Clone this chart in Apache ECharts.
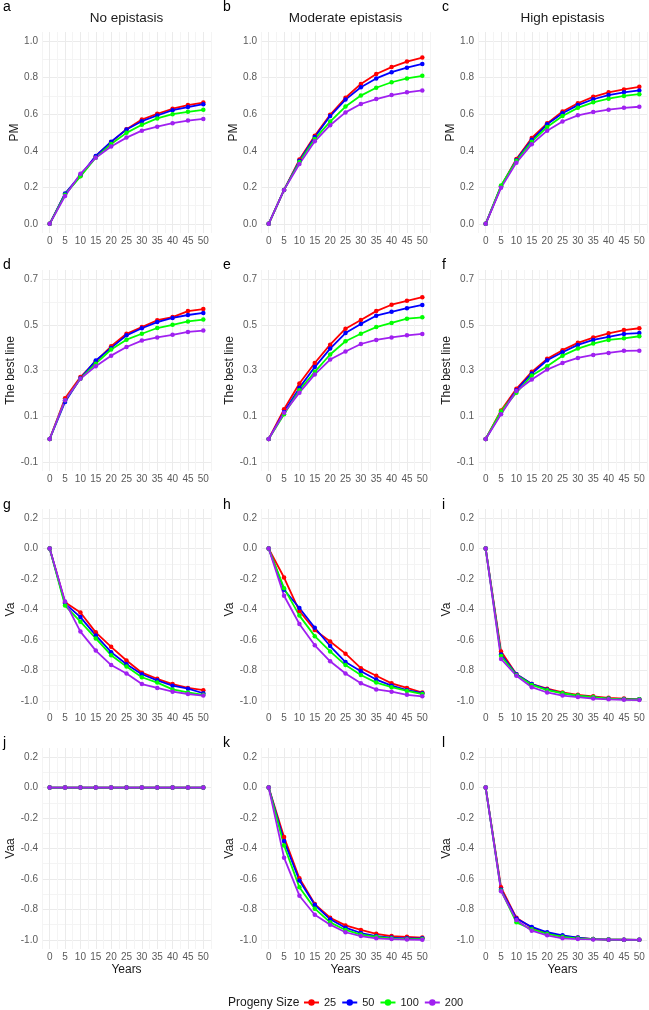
<!DOCTYPE html>
<html lang="en">
<head>
    <meta charset="utf-8">
    <title>Progeny size</title>
    <script src="https://cdn.jsdelivr.net/npm/echarts@6/dist/echarts.min.js"></script>
    <style>html,body{margin:0;padding:0;background:#fff;}</style>
</head>
<body>
    <div id="main" style="width:649px;height:1010px;"></div>

    <script type="text/javascript">

    var years = [0, 5, 10, 15, 20, 25, 30, 35, 40, 45, 50];
    var sizes = ['25', '50', '100', '200'];
    var colors = ['#FF0000', '#0000FF', '#00FF00', '#A020F0'];
    var columnTitles = ['No epistasis', 'Moderate epistasis', 'High epistasis'];
    var rowNames = ['PM', 'The best line', 'Va', 'Vaa'];
    var letters = ['a', 'b', 'c', 'd', 'e', 'f', 'g', 'h', 'i', 'j', 'k', 'l'];

    // tick labels for each row
    var yTicks = [
        [0, 0.2, 0.4, 0.6, 0.8, 1.0],
        [-0.1, 0.1, 0.3, 0.5, 0.7],
        [-1.0, -0.8, -0.6, -0.4, -0.2, 0, 0.2],
        [-1.0, -0.8, -0.6, -0.4, -0.2, 0, 0.2]
    ];
    var yMinor = [
        [0.1, 0.3, 0.5, 0.7, 0.9],
        [0, 0.2, 0.4, 0.6],
        [-0.9, -0.7, -0.5, -0.3, -0.1, 0.1],
        [-0.9, -0.7, -0.5, -0.3, -0.1, 0.1]
    ];
    var xMinor = [-2.5, 2.5, 7.5, 12.5, 17.5, 22.5, 27.5, 32.5, 37.5, 42.5, 47.5, 52.5];

    // series values: 25, 50, 100, 200
    var pmNone = [
        [0, 0.164, 0.262, 0.37, 0.447, 0.518, 0.571, 0.602, 0.630, 0.650, 0.664],
        [0, 0.166, 0.265, 0.372, 0.450, 0.516, 0.562, 0.593, 0.622, 0.639, 0.655],
        [0, 0.160, 0.260, 0.362, 0.437, 0.498, 0.542, 0.577, 0.600, 0.613, 0.624],
        [0, 0.152, 0.274, 0.362, 0.423, 0.472, 0.510, 0.532, 0.551, 0.565, 0.574]
    ];
    var pmModerate = [
        [0, 0.186, 0.352, 0.482, 0.597, 0.690, 0.766, 0.820, 0.858, 0.888, 0.910],
        [0, 0.186, 0.345, 0.475, 0.590, 0.680, 0.748, 0.796, 0.830, 0.855, 0.875],
        [0, 0.186, 0.338, 0.465, 0.560, 0.642, 0.702, 0.745, 0.775, 0.796, 0.810],
        [0, 0.186, 0.328, 0.452, 0.540, 0.610, 0.656, 0.683, 0.705, 0.720, 0.730]
    ];
    var pmHigh = [
        [0, 0.205, 0.355, 0.470, 0.550, 0.615, 0.660, 0.695, 0.720, 0.736, 0.750],
        [0, 0.205, 0.350, 0.460, 0.545, 0.605, 0.650, 0.682, 0.705, 0.720, 0.730],
        [0, 0.210, 0.345, 0.450, 0.530, 0.590, 0.635, 0.665, 0.685, 0.700, 0.710],
        [0, 0.197, 0.335, 0.436, 0.510, 0.560, 0.594, 0.612, 0.625, 0.635, 0.641]
    ];

    var bestNone = [
        [0, 0.178, 0.271, 0.340, 0.406, 0.461, 0.490, 0.520, 0.534, 0.560, 0.569],
        [0, 0.162, 0.266, 0.344, 0.399, 0.454, 0.485, 0.512, 0.530, 0.543, 0.552],
        [0, 0.170, 0.264, 0.330, 0.392, 0.435, 0.461, 0.486, 0.500, 0.515, 0.523],
        [0, 0.170, 0.264, 0.319, 0.365, 0.403, 0.431, 0.445, 0.456, 0.469, 0.475]
    ];
    var bestModerate = [
        [0, 0.130, 0.243, 0.333, 0.413, 0.483, 0.521, 0.560, 0.588, 0.605, 0.621],
        [0, 0.118, 0.224, 0.315, 0.396, 0.464, 0.504, 0.540, 0.557, 0.573, 0.587],
        [0, 0.108, 0.214, 0.294, 0.370, 0.428, 0.461, 0.490, 0.508, 0.527, 0.533],
        [0, 0.115, 0.203, 0.283, 0.348, 0.383, 0.416, 0.434, 0.445, 0.454, 0.460]
    ];
    var bestHigh = [
        [0, 0.125, 0.220, 0.294, 0.351, 0.389, 0.421, 0.444, 0.463, 0.477, 0.485],
        [0, 0.115, 0.214, 0.287, 0.345, 0.380, 0.412, 0.434, 0.447, 0.460, 0.464],
        [0, 0.122, 0.203, 0.278, 0.319, 0.365, 0.396, 0.418, 0.434, 0.441, 0.450],
        [0, 0.108, 0.210, 0.261, 0.304, 0.333, 0.355, 0.368, 0.377, 0.386, 0.387]
    ];

    var vaNone = [
        [0, -0.353, -0.420, -0.550, -0.645, -0.735, -0.815, -0.855, -0.890, -0.915, -0.930],
        [0, -0.361, -0.450, -0.570, -0.680, -0.760, -0.825, -0.865, -0.900, -0.920, -0.950],
        [0, -0.374, -0.480, -0.590, -0.700, -0.775, -0.845, -0.880, -0.925, -0.945, -0.960],
        [0, -0.348, -0.545, -0.670, -0.765, -0.820, -0.890, -0.915, -0.940, -0.955, -0.965]
    ];
    var vaModerate = [
        [0, -0.190, -0.410, -0.535, -0.610, -0.690, -0.785, -0.835, -0.885, -0.915, -0.945],
        [0, -0.270, -0.390, -0.520, -0.640, -0.745, -0.805, -0.860, -0.900, -0.930, -0.950],
        [0, -0.260, -0.440, -0.575, -0.675, -0.765, -0.830, -0.880, -0.910, -0.935, -0.955],
        [0, -0.310, -0.495, -0.635, -0.740, -0.820, -0.885, -0.925, -0.940, -0.960, -0.970]
    ];
    var vaHigh = [
        [0, -0.675, -0.825, -0.890, -0.920, -0.945, -0.960, -0.970, -0.980, -0.985, -0.990],
        [0, -0.695, -0.825, -0.890, -0.925, -0.950, -0.965, -0.975, -0.985, -0.988, -0.990],
        [0, -0.705, -0.830, -0.895, -0.930, -0.950, -0.965, -0.975, -0.985, -0.990, -0.990],
        [0, -0.725, -0.835, -0.910, -0.945, -0.965, -0.975, -0.985, -0.990, -0.993, -0.995]
    ];

    var vaaNone = [
        [0, 0, 0, 0, 0, 0, 0, 0, 0, 0, 0],
        [0, 0, 0, 0, 0, 0, 0, 0, 0, 0, 0],
        [0, 0, 0, 0, 0, 0, 0, 0, 0, 0, 0],
        [0, 0, 0, 0, 0, 0, 0, 0, 0, 0, 0]
    ];
    var vaaModerate = [
        [0, -0.325, -0.595, -0.765, -0.855, -0.905, -0.935, -0.960, -0.975, -0.980, -0.985],
        [0, -0.350, -0.610, -0.770, -0.865, -0.920, -0.955, -0.975, -0.985, -0.990, -0.990],
        [0, -0.380, -0.655, -0.795, -0.885, -0.935, -0.965, -0.980, -0.990, -0.995, -0.995],
        [0, -0.460, -0.710, -0.835, -0.900, -0.950, -0.975, -0.990, -0.995, -0.998, -1.000]
    ];
    var vaaHigh = [
        [0, -0.655, -0.855, -0.920, -0.955, -0.975, -0.985, -0.995, -0.998, -0.999, -1.000],
        [0, -0.670, -0.860, -0.915, -0.950, -0.970, -0.985, -0.995, -0.998, -0.999, -1.000],
        [0, -0.675, -0.885, -0.930, -0.960, -0.980, -0.990, -0.995, -0.998, -0.999, -1.000],
        [0, -0.680, -0.870, -0.940, -0.970, -0.990, -0.995, -0.997, -0.999, -1.000, -1.000]
    ];

    var panels = [
        [pmNone, pmModerate, pmHigh],
        [bestNone, bestModerate, bestHigh],
        [vaNone, vaModerate, vaHigh],
        [vaaNone, vaaModerate, vaaHigh]
    ];

    // layout (pixels)
    var font = 'Liberation Sans, Arial, sans-serif';
    var gridLeft = [42, 261, 478];
    var gridTop = [32, 270, 509, 748];
    var gridW = 169, gridH = 201;
    var yNameGap = [21, 18, 18];
    var yRange = [[-0.05, 1.05], [-0.14, 0.74], [-1.06, 0.26], [-1.06, 0.26]];
    var letterLeft = [3, 223, 442];
    var letterTop = [0, 258, 498, 736];

    var grids = [], xAxes = [], yAxes = [], series = [], titles = [];

    for (var c = 0; c < 3; c++) {
        titles.push({
            text: columnTitles[c],
            left: gridLeft[c] + gridW / 2,
            top: 11,
            padding: 0,
            textAlign: 'center',
            textStyle: { fontFamily: font, fontSize: 13.5, fontWeight: 'normal', color: '#1a1a1a' }
        });
    }

    for (var r = 0; r < 4; r++) {
        for (var c = 0; c < 3; c++) {
            var g = r * 3 + c;
            grids.push({ left: gridLeft[c], top: gridTop[r], width: gridW, height: gridH });

            titles.push({
                text: letters[g],
                left: letterLeft[c],
                top: letterTop[r],
                padding: 0,
                textStyle: { fontFamily: font, fontSize: 14, fontWeight: 'normal', color: '#000' }
            });

            // minor grid lines first, then the main axis
            xAxes.push({
                type: 'value', gridIndex: g, position: 'bottom', min: -2.5, max: 52.5,
                axisLine: { show: false },
                axisTick: { show: false, customValues: xMinor },
                axisLabel: { show: false },
                splitLine: { show: true, lineStyle: { color: '#F4F4F4', width: 1 } }
            });
            xAxes.push({
                type: 'value', gridIndex: g, position: 'bottom', min: -2.5, max: 52.5,
                name: r === 3 ? 'Years' : '',
                nameLocation: 'middle',
                nameGap: 15,
                nameTextStyle: { fontFamily: font, fontSize: 12, color: '#1a1a1a' },
                axisLine: { show: false },
                axisTick: { show: false, customValues: years },
                axisLabel: {
                    customValues: years, margin: 3,
                    fontFamily: font, fontSize: 10, color: '#5a5a5a'
                },
                splitLine: { show: true, lineStyle: { color: '#EBEBEB', width: 1 } }
            });

            yAxes.push({
                type: 'value', gridIndex: g, position: 'left', min: yRange[r][0], max: yRange[r][1],
                axisLine: { show: false },
                axisTick: { show: false, customValues: yMinor[r] },
                axisLabel: { show: false },
                splitLine: { show: true, lineStyle: { color: '#F4F4F4', width: 1 } }
            });
            yAxes.push({
                type: 'value', gridIndex: g, position: 'left', min: yRange[r][0], max: yRange[r][1],
                name: rowNames[r],
                nameLocation: 'middle',
                nameGap: yNameGap[c],
                nameRotate: 90,
                nameTextStyle: { fontFamily: font, fontSize: 12, color: '#1a1a1a' },
                axisLine: { show: false },
                axisTick: { show: false, customValues: yTicks[r] },
                axisLabel: {
                    customValues: yTicks[r], margin: 4,
                    fontFamily: font, fontSize: 10, color: '#5a5a5a',
                    formatter: function (v) { return v.toFixed(1); }
                },
                splitLine: { show: true, lineStyle: { color: '#EBEBEB', width: 1 } }
            });

            var vals = panels[r][c];
            for (var s = 0; s < sizes.length; s++) {
                series.push({
                    name: sizes[s],
                    type: 'line',
                    xAxisIndex: g * 2 + 1,
                    yAxisIndex: g * 2 + 1,
                    data: years.map(function (yr, i) { return [yr, vals[s][i]]; }),
                    symbol: 'circle',
                    symbolSize: 4.5,
                    color: colors[s],
                    lineStyle: { width: 1.8, color: colors[s] },
                    itemStyle: { color: colors[s] }
                });
            }
        }
    }

    var myChart = echarts.init(document.getElementById('main'));

    myChart.setOption({
        animation: false,
        backgroundColor: '#fff',
        title: titles,
        grid: grids,
        xAxis: xAxes,
        yAxis: yAxes,
        legend: {
            data: sizes,
            left: 298,
            top: 992,
            itemWidth: 15,
            itemHeight: 8,
            itemGap: 5,
            textStyle: { fontFamily: font, fontSize: 11, color: '#1a1a1a' }
        },
        graphic: [{
            type: 'text',
            left: 228,
            top: 997,
            style: { text: 'Progeny Size', fontFamily: font, fontSize: 12, fill: '#1a1a1a' }
        }],
        series: series
    });

    </script>
</body>
</html>
